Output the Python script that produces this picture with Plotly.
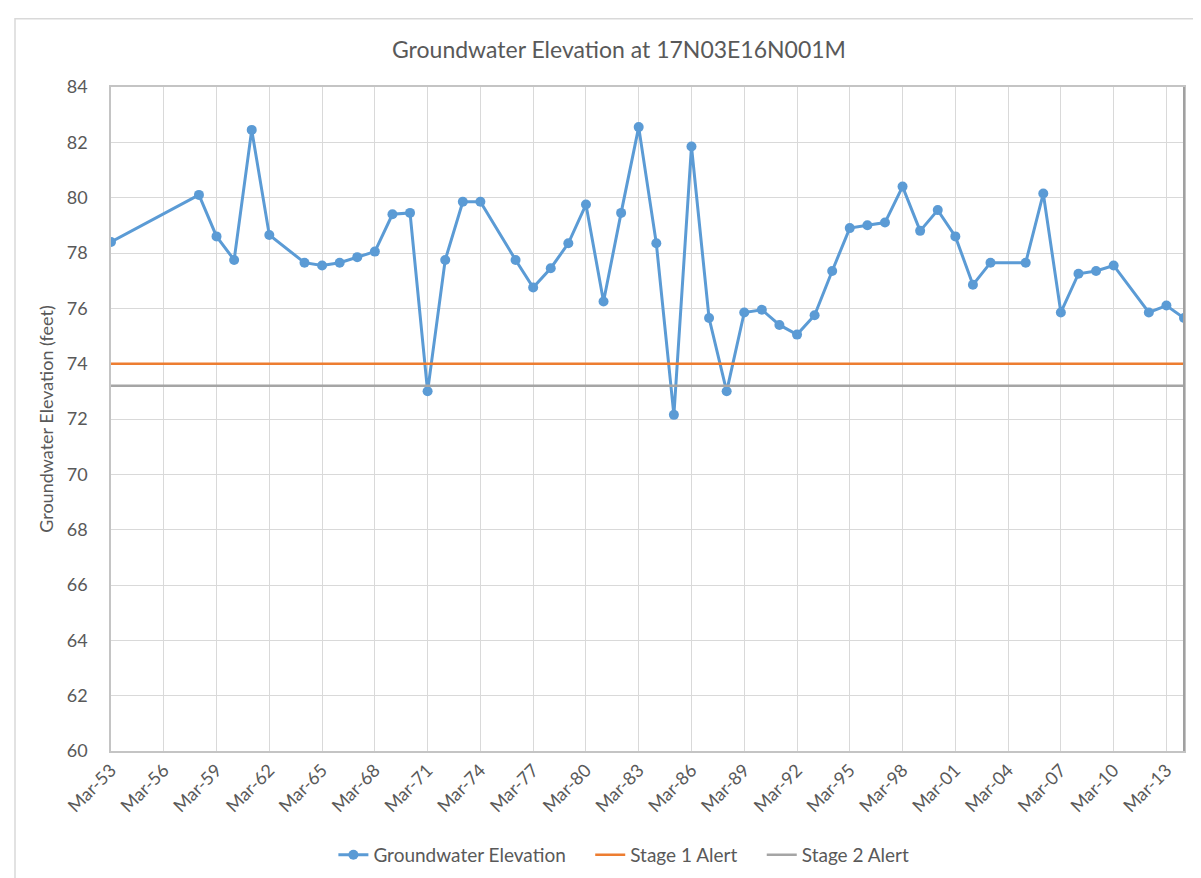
import plotly.graph_objects as go

years = [1953, 1958, 1959, 1960, 1961, 1962, 1964, 1965, 1966, 1967, 1968, 1969, 1970,
         1971, 1972, 1973, 1974, 1976, 1977, 1978, 1979, 1980, 1981, 1982, 1983, 1984,
         1985, 1986, 1987, 1988, 1989, 1990, 1991, 1992, 1993, 1994, 1995, 1996, 1997,
         1998, 1999, 2000, 2001, 2002, 2003, 2005, 2006, 2007, 2008, 2009, 2010, 2012,
         2013, 2014]
elevation = [78.4, 80.1, 78.6, 77.75, 82.45, 78.65, 77.65, 77.55, 77.65, 77.85, 78.05,
             79.4, 79.45, 73.0, 77.75, 79.85, 79.85, 77.75, 76.75, 77.45, 78.35, 79.75,
             76.25, 79.45, 82.55, 78.35, 72.15, 81.85, 75.65, 73.0, 75.85, 75.95, 75.4,
             75.05, 75.75, 77.35, 78.9, 79.0, 79.1, 80.4, 78.8, 79.55, 78.6, 76.85,
             77.65, 77.65, 80.15, 75.85, 77.25, 77.35, 77.55, 75.85, 76.1, 75.65]
stage1_value = 74.0
stage2_value = 73.2
series_names = ["Groundwater Elevation", "Stage 1 Alert", "Stage 2 Alert"]

dates = [f"{y}-03-01" for y in years]
stage1 = [stage1_value] * len(dates)
stage2 = [stage2_value] * len(dates)

text_color = "#595959"
grid_color = "#d9d9d9"
font_family = "Lato, Open Sans, sans-serif"
pad = "\u00a0" * 4  # extra spacing between legend entries

fig = go.Figure()
fig.add_trace(go.Scatter(
    x=dates, y=elevation, name=series_names[0] + pad,
    mode="lines+markers",
    line=dict(color="#5B9BD5", width=3),
    marker=dict(color="#5B9BD5", size=10),
))
fig.add_trace(go.Scatter(
    x=[dates[0], dates[-1]], y=[stage1[0], stage1[-1]], name=series_names[1] + pad,
    mode="lines", line=dict(color="#ED7D31", width=2.5),
))
fig.add_trace(go.Scatter(
    x=[dates[0], dates[-1]], y=[stage2[0], stage2[-1]], name=series_names[2],
    mode="lines", line=dict(color="#A5A5A5", width=2.5),
))

fig.update_layout(
    width=1201, height=878,
    paper_bgcolor="white", plot_bgcolor="white",
    margin=dict(l=103, r=25, t=79, b=128),
    font=dict(family=font_family, color=text_color, size=18),
    title=dict(text="Groundwater Elevation at 17N03E16N001M",
               x=611 / 1201, xanchor="center", y=1 - 42 / 878, yanchor="middle",
               font=dict(size=23, color=text_color)),
    showlegend=True,
    legend=dict(orientation="h", x=0.478, xanchor="center", y=-105 / 671, yanchor="middle",
                font=dict(size=19, color=text_color), itemwidth=30,
                traceorder="normal"),
    xaxis=dict(
        type="date",
        range=["1953-03-01", "2014-03-01"],
        tick0="1953-03-01", dtick="M36",
        tickformat="%b-%y", tickangle=-45,
        showgrid=True, gridcolor=grid_color, gridwidth=1,
        showline=True, mirror=True, linecolor="#c4c4c4", linewidth=1.5,
        ticks="", zeroline=False,
        tickfont=dict(size=18, color=text_color),
    ),
    yaxis=dict(
        range=[60, 84], dtick=2, tick0=60,
        showgrid=True, gridcolor=grid_color, gridwidth=1,
        showline=True, mirror=True, linecolor="#c4c4c4", linewidth=1.5,
        zeroline=False, ticks="",
        ticklabelstandoff=18,
        tickfont=dict(size=18, color=text_color),
        title=dict(text="Groundwater Elevation (feet)", standoff=8,
                   font=dict(size=18, color=text_color)),
    ),
)

# right edge line of plot area (darker in the reference)
fig.add_shape(type="line", xref="paper", yref="paper", x0=1, x1=1, y0=0, y1=1,
              line=dict(color="#a0a0a0", width=2))
# chart outer border (only top and left edges visible in the picture)
fig.add_shape(type="rect", xref="paper", yref="paper",
              x0=-96 / 1073, x1=1 + 60 / 1073, y0=-160 / 671, y1=1 + 69 / 671,
              line=dict(color="#d9d9d9", width=1.5))

fig.write_html("out.html")
